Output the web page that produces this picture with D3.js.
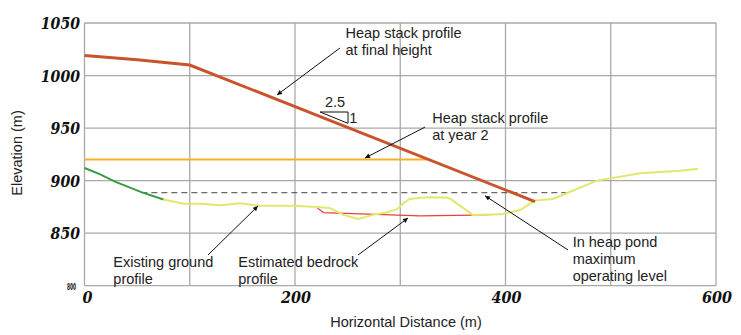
<!DOCTYPE html>
<html>
<head>
<meta charset="utf-8">
<script src="https://cdn.jsdelivr.net/npm/d3@7"></script>
<style>
  body { margin: 0; background: #fff; }
  svg { display: block; }
  .note { font-family: "Liberation Sans", Arial, sans-serif; font-size: 14.5px; fill: #222; }
  .tick-lbl { font-family: "DejaVu Serif", serif; font-weight: bold; font-style: italic; font-size: 16px; fill: #111; }
</style>
</head>
<body>
<div id="chart"></div>
<script>
// data (elevation m vs horizontal distance m)
const heapFinal = [[0, 1019], [50, 1015], [100, 1010], [428, 880]];
const heapYear2 = [[0, 920], [329, 920]];
const pondLevel = [[54, 888.5], [459, 888.5]];
const groundGreen = [[0, 912], [15, 906], [29, 899], [54, 889], [75, 882]];
const groundYellow = [
  [75, 882], [94, 878], [110, 878], [129, 876.6], [148, 878.5], [164, 876.2],
  [198, 876], [221, 875], [233, 874], [240, 870.5], [246, 867.4], [260, 863.6],
  [274, 867.4], [287, 869.6], [297, 872.8], [303, 878.5], [309, 882.6], [325, 884.2],
  [344, 884], [347, 883], [369, 867.4], [396, 868], [414, 872], [428, 881],
  [445, 882.6], [458, 888], [487, 900], [528, 907], [566, 909.5], [583, 911.4]
];
const bedrock = [[220, 875], [227, 869.6], [319, 866.5], [369, 867.2], [396, 868]];
const xLabels = [0, 200, 400, 600];
const yLabels = [850, 900, 950, 1000, 1050];

// annotations: text lines + arrow (from -> to) in data units
const notes = [
  { x: 248, y: 1035.4, lines: ["Heap stack profile", "at final height"], from: [242.7, 1026.2], to: [182.9, 981.5] },
  { x: 330.4, y: 954.4, lines: ["Heap stack profile", "at year 2"], from: [323.5, 950.9], to: [266.5, 921.5] },
  { x: 463.8, y: 837.1, lines: ["In heap pond", "maximum", "operating level"], from: [459.4, 834], to: [380.5, 885.6] },
  { x: 27.4, y: 817.5, lines: ["Existing ground", "profile"], from: [117.3, 829.2], to: [164.8, 875.8] },
  { x: 146.1, y: 817.5, lines: ["Estimated bedrock", "profile"], from: [259.9, 829.2], to: [307.4, 864.4] }
];
const slopeTri = [[223.8, 965.3], [250.4, 965.3], [250.4, 954.5]];

const width = 741, height = 335;
const svg = d3.select("#chart").append("svg").attr("width", width).attr("height", height);

const x = d3.scaleLinear().domain([0, 600]).range([84.5, 716]);
const y = d3.scaleLinear().domain([800, 1050]).range([285.7, 23]);

// grid
const grid = svg.append("g").attr("stroke", "#a9a9a9").attr("stroke-width", 1.3);
grid.selectAll("line.v").data(d3.range(0, 601, 100)).join("line")
  .attr("x1", d => x(d)).attr("x2", d => x(d)).attr("y1", y(800)).attr("y2", y(1050));
grid.selectAll("line.h").data(d3.range(800, 1051, 50)).join("line")
  .attr("x1", x(0)).attr("x2", x(600)).attr("y1", d => y(d)).attr("y2", d => y(d));

// tick labels
svg.selectAll("text.ylab").data(yLabels).join("text")
  .attr("class", "tick-lbl").attr("x", 80).attr("y", d => y(d) + 6)
  .attr("text-anchor", "end")
  .attr("textLength", d => String(d).length * 9.8).attr("lengthAdjust", "spacingAndGlyphs")
  .text(d => d);
svg.selectAll("text.xlab").data(xLabels).join("text")
  .attr("class", "tick-lbl").attr("x", d => x(d) + (d === 0 ? 3 : 1)).attr("y", 303)
  .attr("text-anchor", "middle")
  .attr("textLength", d => String(d).length * 10).attr("lengthAdjust", "spacingAndGlyphs")
  .text(d => d);
// squashed 800 label at the corner
svg.append("text").attr("x", 67).attr("y", 290)
  .attr("font-family", "DejaVu Sans, sans-serif").attr("font-weight", "bold")
  .attr("font-size", 8).attr("textLength", 9).attr("lengthAdjust", "spacingAndGlyphs")
  .attr("fill", "#111").text("800");

// axis titles
svg.append("text").attr("class", "note")
  .attr("transform", "translate(22,153) rotate(-90)")
  .attr("text-anchor", "middle").attr("fill", "#333").text("Elevation (m)");
svg.append("text").attr("class", "note")
  .attr("x", 406).attr("y", 327).attr("text-anchor", "middle").text("Horizontal Distance (m)");

// lines
const line = d3.line().x(d => x(d[0])).y(d => y(d[1]));
svg.append("path").datum(pondLevel).attr("d", line).attr("fill", "none")
  .attr("stroke", "#444").attr("stroke-width", 1).attr("stroke-dasharray", "6,4");
svg.append("path").datum(bedrock).attr("d", line).attr("fill", "none")
  .attr("stroke", "#e8403f").attr("stroke-width", 1.2);
svg.append("path").datum(groundYellow).attr("d", line).attr("fill", "none")
  .attr("stroke", "#e2e86c").attr("stroke-width", 2);
svg.append("path").datum(groundGreen).attr("d", line).attr("fill", "none")
  .attr("stroke", "#3a9a41").attr("stroke-width", 2);
svg.append("path").datum(heapYear2).attr("d", line).attr("fill", "none")
  .attr("stroke", "#f5b02a").attr("stroke-width", 2);
svg.append("path").datum(heapFinal).attr("d", line).attr("fill", "none")
  .attr("stroke", "#c9532c").attr("stroke-width", 3);

// slope triangle 2.5 : 1
svg.append("path").datum(slopeTri)
  .attr("d", d => line(d) + "Z").attr("fill", "none").attr("stroke", "#111").attr("stroke-width", 1);
svg.append("text").attr("class", "note").attr("x", x(238)).attr("y", y(970.3))
  .attr("text-anchor", "middle").text("2.5");
svg.append("text").attr("class", "note").attr("x", x(251.5)).attr("y", y(955.1)).text("1");

// arrows
svg.append("defs").append("marker").attr("id", "ah")
  .attr("viewBox", "0 0 10 10").attr("refX", 10).attr("refY", 5)
  .attr("markerWidth", 10).attr("markerHeight", 5).attr("orient", "auto")
  .attr("markerUnits", "userSpaceOnUse")
  .append("path").attr("d", "M0,0 L10,5 L0,10 Z").attr("fill", "#111");

notes.forEach(n => {
  svg.append("line")
    .attr("x1", x(n.from[0])).attr("y1", y(n.from[1]))
    .attr("x2", x(n.to[0])).attr("y2", y(n.to[1]))
    .attr("stroke", "#111").attr("stroke-width", 1).attr("marker-end", "url(#ah)");
  const t = svg.append("text").attr("class", "note").attr("x", x(n.x)).attr("y", y(n.y));
  n.lines.forEach((l, i) => {
    t.append("tspan").attr("x", x(n.x)).attr("dy", i === 0 ? 0 : 17).text(l);
  });
});
</script>
</body>
</html>
